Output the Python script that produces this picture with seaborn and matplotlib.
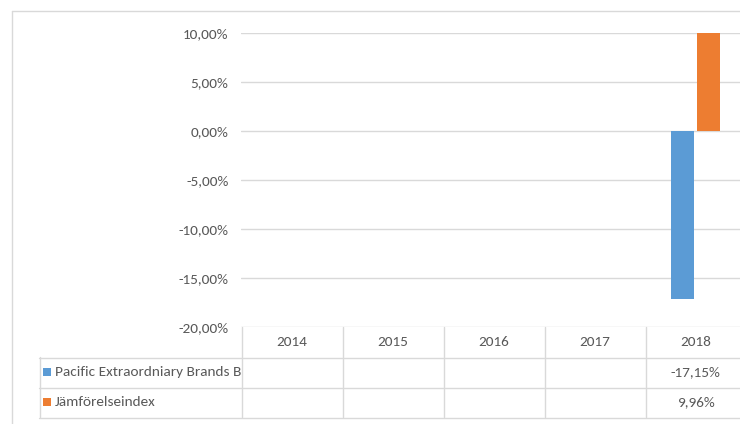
import numpy as np
import pandas as pd
import matplotlib
matplotlib.use("Agg")
import matplotlib.pyplot as plt
import seaborn as sns

# === Daten ===
years = ["2014", "2015", "2016", "2017", "2018"]
series_names = ["Pacific Extraordniary Brands B", "Jämförelseindex"]
pacific = [np.nan, np.nan, np.nan, np.nan, -0.1715]
index_values = [np.nan, np.nan, np.nan, np.nan, 0.0996]
yticks = [-0.20, -0.15, -0.10, -0.05, 0.0, 0.05, 0.10]

colors = {"Pacific Extraordniary Brands B": "#5B9BD5", "Jämförelseindex": "#ED7D31"}
text_color = "#595959"
line_color = "#D9D9D9"

df = pd.DataFrame({
    "år": years * 2,
    "serie": [series_names[0]] * len(years) + [series_names[1]] * len(years),
    "värde": pacific + index_values,
})

sns.set_theme(style="white")
plt.rcParams["font.family"] = ["Carlito", "DejaVu Sans"]
plt.rcParams["font.size"] = 11


def pct(v):
    return f"{v * 100:.2f}%".replace(".", ",")


W, H = 740, 424
fig = plt.figure(figsize=(W / 100, H / 100), dpi=100)

# Layout in Pixeln
plot_left, plot_right = 241, 746
plot_top, plot_bottom = 33, 327
row_h = 30
label_left = 39
fs = 11

ax = fig.add_axes([plot_left / W, 1 - plot_bottom / H,
                   (plot_right - plot_left) / W, (plot_bottom - plot_top) / H])
sns.barplot(data=df, x="år", y="värde", hue="serie", order=years,
            hue_order=series_names, palette=colors, width=0.5, gap=0.09,
            saturation=1, linewidth=0, legend=False, ax=ax)
ax.set_xlim(-0.5, len(years) - 0.5)
ax.set_ylim(yticks[0], yticks[-1])
ax.set_yticks(yticks)
ax.set_yticklabels([pct(v) for v in yticks], color=text_color)
ax.tick_params(axis="y", length=0, pad=9, labelsize=fs)
ax.set_xticks([])
ax.set_xlabel("")
ax.set_ylabel("")
for s in ax.spines.values():
    s.set_visible(False)
ax.grid(axis="y", color=line_color, linewidth=1)
ax.set_axisbelow(True)
ax.patch.set_alpha(0)

# === Overlay für Rahmen und Datentabelle ===
ov = fig.add_axes([0, 0, 1, 1], zorder=-1)
ov.set_xlim(0, W)
ov.set_ylim(H, 0)
ov.axis("off")

# Diagrammrahmen
ov.plot([11.5, 11.5], [10.5, H], color=line_color, lw=1)
ov.plot([11.5, W], [10.5, 10.5], color=line_color, lw=1)

col_w = (plot_right - plot_left) / len(years)
col_edges = [plot_left + i * col_w for i in range(len(years) + 1)]
table_bottom = plot_bottom + 3 * row_h

# Senkrechte Linien
for x in col_edges:
    ov.plot([x + 0.5, x + 0.5], [plot_bottom, table_bottom], color=line_color, lw=1)
ov.plot([label_left + 0.5] * 2, [plot_bottom + row_h, table_bottom], color=line_color, lw=1)
# Waagerechte Linien
for r in range(1, 4):
    y = plot_bottom + r * row_h + 0.5
    ov.plot([label_left, plot_right], [y, y], color=line_color, lw=1)

# Kopfzeile mit Jahren
for i, yr in enumerate(years):
    cx = (col_edges[i] + col_edges[i + 1]) / 2
    ov.text(cx, plot_bottom + row_h / 2, yr, ha="center", va="center",
            color=text_color, fontsize=fs)

# Datenzeilen
for r, (name, vals) in enumerate(zip(series_names, [pacific, index_values])):
    cy = plot_bottom + (r + 1.5) * row_h
    ov.add_patch(plt.Rectangle((43, cy - 4), 8, 8, color=colors[name], lw=0))
    ov.text(55, cy, name, ha="left", va="center", color=text_color, fontsize=fs)
    for i, v in enumerate(vals):
        if not np.isnan(v):
            cx = (col_edges[i] + col_edges[i + 1]) / 2
            ov.text(cx, cy, pct(v), ha="center", va="center",
                    color=text_color, fontsize=fs)

fig.savefig("out.png", dpi=100)
